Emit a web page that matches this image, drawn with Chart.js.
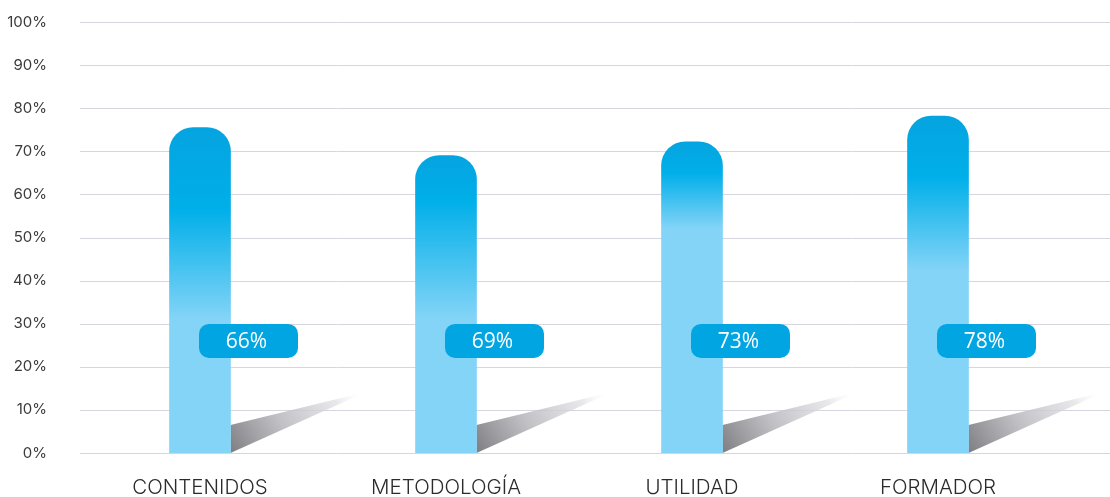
<!DOCTYPE html>
<html>
<head>
<meta charset="utf-8">
<script src="https://cdn.jsdelivr.net/npm/chart.js@4.4.0/dist/chart.umd.min.js"></script>
<style>
  html, body { margin: 0; padding: 0; background: #fff; }
  #wrap { width: 1110px; height: 497px; }
</style>
</head>
<body>
<div id="wrap"><canvas id="chart"></canvas></div>
<script>
// data
var categories = ['CONTENIDOS', 'METODOLOGÍA', 'UTILIDAD', 'FORMADOR'];
var barValues = [75.5, 69, 72.2, 78.2];     // bar heights (%)
var badgeValues = [66, 69, 73, 78];          // numbers printed in the badges
var badgeLevel = 26;                         // badges sit around the 26% line

// gradient stops for each bar (fraction of bar height: light until a, dark from b)
var gradStops = [[0.41, 0.75], [0.45, 0.85], [0.72, 0.9], [0.54, 0.82]];

function barGradient(ctx) {
    var chart = ctx.chart;
    var area = chart.chartArea;
    if (!area) return '#84D4F7';
    var i = ctx.dataIndex;
    var yScale = chart.scales.y;
    var base = yScale.getPixelForValue(0);
    var top = yScale.getPixelForValue(barValues[i]);
    var g = chart.ctx.createLinearGradient(0, base, 0, top);
    var s = gradStops[i] || [0.5, 0.8];
    g.addColorStop(0, '#84D4F7');
    g.addColorStop(s[0], '#84D4F7');
    g.addColorStop(s[1], '#00AFE9');
    g.addColorStop(1, '#05A4E0');
    return g;
}

// horizontal grid lines running across the whole width
var gridPlugin = {
    id: 'fullGrid',
    beforeDatasetsDraw: function (chart) {
        var c = chart.ctx;
        var y = chart.scales.y;
        c.save();
        c.strokeStyle = '#d6d6e0';
        c.lineWidth = 1;
        y.ticks.forEach(function (t) {
            var py = Math.round(y.getPixelForValue(t.value)) + 0.5;
            c.beginPath();
            c.moveTo(chart.chartArea.left + 3, py);
            c.lineTo(chart.width, py);
            c.stroke();
        });
        c.restore();
    }
};

// grey shadow wedge to the right of each bar base
var shadowPlugin = {
    id: 'barShadow',
    beforeDatasetsDraw: function (chart) {
        var c = chart.ctx;
        var meta = chart.getDatasetMeta(0);
        c.save();
        meta.data.forEach(function (bar) {
            var r = bar.x + bar.width / 2;
            var b = bar.base;
            c.beginPath();
            c.moveTo(r, b);
            c.lineTo(r, b - 28);
            c.lineTo(r + 127, b - 59);
            c.lineTo(r + 129, b - 58);
            c.closePath();
            var g = c.createLinearGradient(r, b, r + 125, b - 75);
            g.addColorStop(0, 'rgba(125,125,130,1)');
            g.addColorStop(0.4, 'rgba(185,185,190,0.9)');
            g.addColorStop(0.8, 'rgba(222,222,226,0.7)');
            g.addColorStop(1, 'rgba(255,255,255,0)');
            c.fillStyle = g;
            c.fill();
        });
        c.restore();
    }
};

// blue rounded badges with the percentages
var badgePlugin = {
    id: 'badges',
    afterDatasetsDraw: function (chart) {
        var c = chart.ctx;
        var meta = chart.getDatasetMeta(0);
        var cy = chart.scales.y.getPixelForValue(badgeLevel);
        c.save();
        meta.data.forEach(function (bar, i) {
            var x = bar.x - 1, w = 99, h = 34;
            c.beginPath();
            c.roundRect(x, cy - h / 2, w, h, 10);
            c.fillStyle = '#00A5E2';
            c.fill();
            c.fillStyle = '#ffffff';
            c.font = '400 21px "Open Sans", sans-serif';
            c.textAlign = 'center';
            c.textBaseline = 'middle';
            c.fillText(badgeValues[i] + '%', x + w / 2 - 2, cy + 1);
        });
        c.restore();
    }
};

new Chart(document.getElementById('chart'), {
    type: 'bar',
    data: {
        labels: categories,
        datasets: [{
            data: barValues,
            backgroundColor: barGradient,
            barThickness: 61,
            borderRadius: {topLeft: 24, topRight: 24, bottomLeft: 0, bottomRight: 0},
            borderSkipped: false
        }]
    },
    options: {
        responsive: true,
        maintainAspectRatio: false,
        animation: false,
        layout: {padding: {top: 22, right: 49, left: 0, bottom: 0}},
        plugins: {
            legend: {display: false},
            tooltip: {enabled: false}
        },
        scales: {
            x: {
                grid: {display: false, drawTicks: false},
                border: {display: false},
                ticks: {
                    padding: 23,
                    color: '#2b2b2b',
                    font: {family: 'Inter, "Open Sans", sans-serif', size: 20.5, weight: '300'}
                },
                afterFit: function (s) { s.height = 44; }
            },
            y: {
                min: 0,
                max: 100,
                grid: {display: false, drawTicks: false},
                border: {display: false},
                ticks: {
                    stepSize: 10,
                    padding: 30,
                    color: '#3a3a3a',
                    font: {family: 'Inter, "Open Sans", sans-serif', size: 15, weight: '400'},
                    callback: function (v) { return v + '%'; }
                },
                afterFit: function (s) {
                    s.width = 77;
                    s.paddingTop = 0;
                    s.paddingBottom = 0;
                }
            }
        }
    },
    plugins: [gridPlugin, shadowPlugin, badgePlugin]
});
</script>
</body>
</html>
